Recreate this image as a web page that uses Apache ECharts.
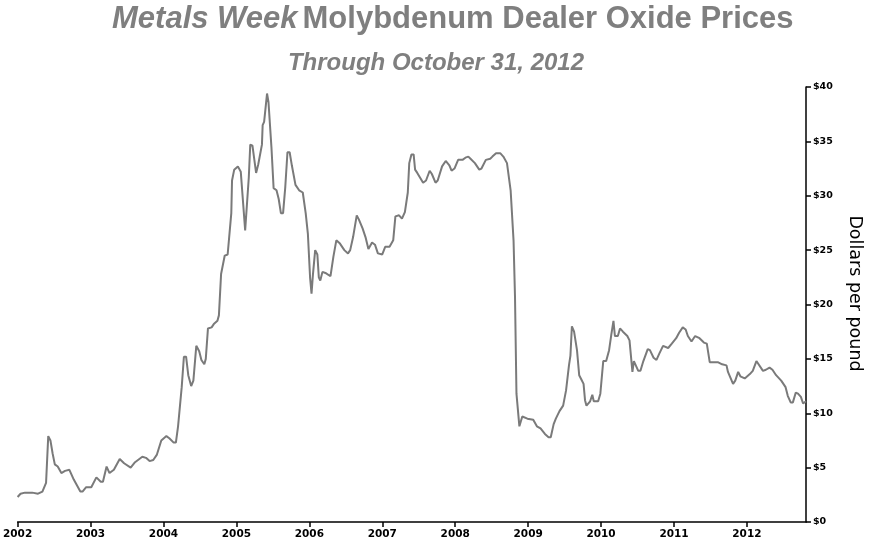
<!DOCTYPE html>
<html>
<head>
<meta charset="utf-8">
<script src="https://cdn.jsdelivr.net/npm/echarts@6/dist/echarts.min.js"></script>
<style>
  html, body { margin: 0; padding: 0; background: #fff; }
  #chart { width: 872px; height: 543px; }
</style>
</head>
<body>
<div id="chart"></div>
<script>
// time in decimal years
var years = [
  2002.00, 2002.04, 2002.10, 2002.20, 2002.28, 2002.34, 2002.39, 2002.42, 2002.45, 2002.48,
  2002.51, 2002.55, 2002.60, 2002.65, 2002.71, 2002.77, 2002.86, 2002.89, 2002.94, 2003.01,
  2003.08, 2003.14, 2003.17, 2003.22, 2003.26, 2003.32, 2003.40, 2003.46, 2003.55, 2003.61,
  2003.71, 2003.76, 2003.81, 2003.86, 2003.91, 2003.97, 2004.04, 2004.08, 2004.14, 2004.17,
  2004.20, 2004.25, 2004.28, 2004.31, 2004.34, 2004.38, 2004.41, 2004.45, 2004.49, 2004.52,
  2004.56, 2004.58, 2004.61, 2004.66, 2004.69, 2004.74, 2004.76, 2004.79, 2004.84, 2004.88,
  2004.93, 2004.94, 2004.97, 2005.02, 2005.06, 2005.12, 2005.17, 2005.19, 2005.22, 2005.27,
  2005.30, 2005.35, 2005.36, 2005.38, 2005.42, 2005.44, 2005.48, 2005.51, 2005.55, 2005.58,
  2005.61, 2005.64, 2005.67, 2005.70, 2005.73, 2005.76, 2005.81, 2005.86, 2005.91, 2005.95,
  2005.98, 2006.01, 2006.03, 2006.05, 2006.08, 2006.11, 2006.13, 2006.15, 2006.18, 2006.22,
  2006.29, 2006.33, 2006.37, 2006.42, 2006.48, 2006.53, 2006.56, 2006.60, 2006.65, 2006.68,
  2006.73, 2006.77, 2006.81, 2006.86, 2006.90, 2006.94, 2007.00, 2007.04, 2007.10, 2007.15,
  2007.18, 2007.23, 2007.27, 2007.31, 2007.35, 2007.37, 2007.40, 2007.43, 2007.45, 2007.48,
  2007.56, 2007.60, 2007.65, 2007.68, 2007.73, 2007.76, 2007.82, 2007.87, 2007.92, 2007.95,
  2007.99, 2008.04, 2008.10, 2008.14, 2008.18, 2008.21, 2008.27, 2008.33, 2008.36, 2008.42,
  2008.48, 2008.51, 2008.56, 2008.62, 2008.66, 2008.71, 2008.76, 2008.80, 2008.82, 2008.84,
  2008.88, 2008.92, 2008.99, 2009.07, 2009.12, 2009.17, 2009.23, 2009.28, 2009.31, 2009.35,
  2009.38, 2009.43, 2009.48, 2009.52, 2009.56, 2009.58, 2009.60, 2009.63, 2009.67, 2009.70,
  2009.73, 2009.76, 2009.78, 2009.80, 2009.85, 2009.88, 2009.90, 2009.96, 2009.99, 2010.03,
  2010.07, 2010.11, 2010.14, 2010.17, 2010.19, 2010.23, 2010.26, 2010.30, 2010.36, 2010.39,
  2010.43, 2010.45, 2010.47, 2010.51, 2010.54, 2010.58, 2010.64, 2010.67, 2010.72, 2010.76,
  2010.80, 2010.85, 2010.92, 2010.97, 2011.03, 2011.07, 2011.12, 2011.16, 2011.19, 2011.24,
  2011.29, 2011.35, 2011.41, 2011.45, 2011.49, 2011.56, 2011.60, 2011.66, 2011.72, 2011.74,
  2011.81, 2011.84, 2011.88, 2011.91, 2011.97, 2012.04, 2012.08, 2012.13, 2012.15, 2012.22,
  2012.26, 2012.31, 2012.35, 2012.40, 2012.47, 2012.53, 2012.56, 2012.60, 2012.63, 2012.67,
  2012.70, 2012.74, 2012.77, 2012.81
];

// dealer oxide price, $/lb
var prices = [
  2.3, 2.6, 2.7, 2.7, 2.6, 2.8, 3.6, 7.9, 7.5, 6.3,
  5.3, 5.1, 4.5, 4.7, 4.8, 3.9, 2.8, 2.8, 3.2, 3.2,
  4.1, 3.7, 3.7, 5.1, 4.5, 4.8, 5.8, 5.4, 5.0, 5.5,
  6.0, 5.9, 5.6, 5.7, 6.2, 7.5, 7.9, 7.7, 7.3, 7.3,
  8.8, 12.4, 15.2, 15.2, 13.5, 12.5, 13.0, 16.2, 15.7, 14.9,
  14.5, 15.0, 17.8, 17.9, 18.2, 18.5, 19.0, 22.8, 24.5, 24.6,
  28.4, 31.4, 32.4, 32.7, 32.2, 26.8, 31.7, 34.7, 34.6, 32.1,
  32.9, 34.7, 36.5, 36.8, 39.4, 38.6, 34.5, 30.7, 30.5, 29.7,
  28.4, 28.4, 30.8, 34.0, 34.0, 32.8, 31.0, 30.5, 30.3, 28.4,
  26.5, 22.5, 21.0, 22.8, 25.0, 24.6, 22.5, 22.2, 23.0, 22.9,
  22.6, 24.4, 25.9, 25.6, 25.0, 24.7, 25.0, 26.2, 28.2, 27.8,
  27.0, 26.2, 25.1, 25.7, 25.5, 24.7, 24.6, 25.3, 25.3, 25.9,
  28.1, 28.2, 27.9, 28.5, 30.3, 33.0, 33.8, 33.8, 32.4, 32.1,
  31.2, 31.4, 32.3, 32.0, 31.2, 31.4, 32.7, 33.2, 32.8, 32.3,
  32.5, 33.3, 33.3, 33.5, 33.6, 33.4, 33.0, 32.4, 32.5, 33.3,
  33.4, 33.6, 33.9, 33.9, 33.6, 33.0, 30.5, 25.9, 20.7, 11.8,
  8.8, 9.7, 9.5, 9.4, 8.8, 8.6, 8.1, 7.8, 7.8, 9.0,
  9.5, 10.2, 10.7, 12.1, 14.4, 15.3, 18.0, 17.5, 15.8, 13.5,
  13.1, 12.7, 11.2, 10.7, 11.1, 11.7, 11.1, 11.1, 11.8, 14.8,
  14.8, 15.8, 17.2, 18.5, 17.1, 17.1, 17.8, 17.5, 17.1, 16.7,
  13.8, 14.8, 14.8, 13.9, 13.9, 14.8, 15.9, 15.8, 15.1, 14.9,
  15.5, 16.2, 16.0, 16.4, 16.9, 17.4, 17.9, 17.7, 17.1, 16.6,
  17.1, 16.9, 16.5, 16.4, 14.7, 14.7, 14.7, 14.5, 14.4, 13.8,
  12.7, 13.0, 13.8, 13.4, 13.2, 13.6, 13.9, 14.8, 14.7, 13.9,
  14.0, 14.2, 14.0, 13.5, 13.0, 12.4, 11.6, 11.0, 11.0, 11.9,
  11.8, 11.5, 10.9, 11.1
];

var yearTicks = [2002, 2003, 2004, 2005, 2006, 2007, 2008, 2009, 2010, 2011, 2012];

var chart = echarts.init(document.getElementById('chart'));

var points = [];
for (var i = 0; i < years.length; i++) {
  points.push([years[i], prices[i]]);
}

var option = {
  animation: false,
  backgroundColor: '#ffffff',
  title: [{
    text: '{i|Metals Week} {n|Molybdenum Dealer Oxide Prices}',
    left: 107,
    top: -1,
    textStyle: {
      rich: {
        i: { fontFamily: 'Liberation Sans', fontSize: 31, fontStyle: 'italic', fontWeight: 'bold', color: '#7f7f7f' },
        n: { fontFamily: 'Liberation Sans', fontSize: 31, fontWeight: 'bold', color: '#7f7f7f' }
      }
    }
  }, {
    text: 'Through October 31, 2012',
    left: 'center',
    top: 46,
    textStyle: {
      fontFamily: 'Liberation Sans',
      fontSize: 24,
      fontStyle: 'italic',
      fontWeight: 'bold',
      color: '#7f7f7f'
    }
  }],
  grid: { left: 15, right: 66, top: 87, bottom: 21, containLabel: false },
  xAxis: {
    type: 'value',
    min: 2002,
    max: 2012.81,
    splitLine: { show: false },
    axisLine: { lineStyle: { color: '#000', width: 1.5 } },
    axisTick: { customValues: yearTicks, length: 5, lineStyle: { color: '#000', width: 1.5 } },
    axisLabel: {
      customValues: yearTicks,
      margin: 7,
      fontFamily: 'DejaVu Sans',
      fontWeight: 'bold',
      fontSize: 10.5,
      color: '#000',
      formatter: function (v) { return String(v); }
    }
  },
  yAxis: {
    type: 'value',
    position: 'right',
    min: 0,
    max: 40,
    interval: 5,
    name: 'Dollars per pound',
    nameLocation: 'middle',
    nameRotate: -90,
    nameGap: 40,
    nameTextStyle: {
      fontFamily: 'DejaVu Sans',
      fontSize: 17.5,
      color: '#000',
      padding: [0, 22, 0, 0]
    },
    splitLine: { show: false },
    axisLine: { show: true, lineStyle: { color: '#000', width: 1.5 } },
    axisTick: { show: true, length: 5, lineStyle: { color: '#000', width: 1.5 } },
    axisLabel: {
      margin: 7,
      fontFamily: 'DejaVu Sans',
      fontWeight: 'bold',
      fontSize: 9.5,
      color: '#000',
      formatter: function (v) { return '$' + v; }
    }
  },
  series: [{
    type: 'line',
    data: points,
    showSymbol: false,
    lineStyle: { color: '#7a7a7a', width: 2 }
  }]
};

chart.setOption(option);
</script>
</body>
</html>
